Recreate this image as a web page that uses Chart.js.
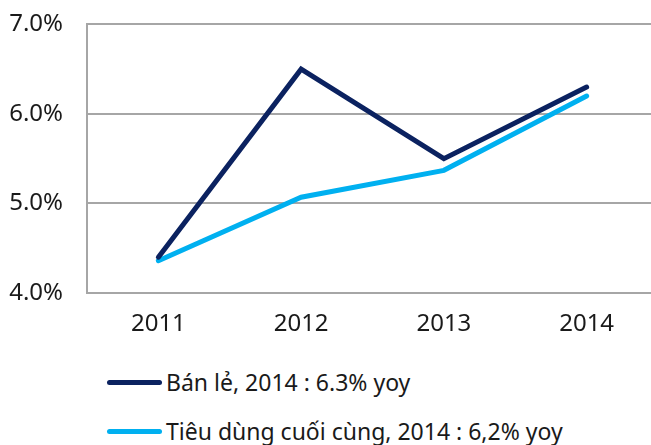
<!DOCTYPE html>
<html>
<head>
<meta charset="utf-8">
<script src="https://cdn.jsdelivr.net/npm/chart.js@4/dist/chart.umd.min.js"></script>
<style>
  html, body { margin: 0; padding: 0; background: #fff; overflow: hidden; }
  body { width: 651px; height: 445px; position: relative; font-family: "Noto Sans", sans-serif; }
  #wrap { position: absolute; left: 0; top: -14px; width: 658px; height: 364px; }
  #legend { position: absolute; left: 107px; top: 365px; }
  .item { display: flex; align-items: center; height: 34px; margin-bottom: 15px; font-size: 23px; color: #1a1a1a; white-space: nowrap; }
  .swatch { display: inline-block; width: 55px; height: 5px; border-radius: 3px; margin-right: 4px; }
</style>
</head>
<body>
<div id="wrap"><canvas id="chart"></canvas></div>
<div id="legend"></div>
<script>
/*************************************************
 * DATA
 *************************************************/
const years = ["2011", "2012", "2013", "2014"];
const retail = [4.40, 6.50, 5.50, 6.30];
const finalConsumption = [4.36, 5.07, 5.37, 6.20];
const seriesNames = ["Bán lẻ, 2014 : 6.3% yoy", "Tiêu dùng cuối cùng, 2014 : 6,2% yoy"];
const yTicks = [4, 5, 6, 7];

const NAVY = "#0b2260";
const SKY = "#00b0f0";
const GRID = "#a6a6a6";

/*************************************************
 * CHART
 *************************************************/
const chart = new Chart(document.getElementById("chart"), {
  type: "line",
  data: {
    labels: years,
    datasets: [
      { label: seriesNames[0], data: retail, borderColor: NAVY, backgroundColor: NAVY },
      { label: seriesNames[1], data: finalConsumption, borderColor: SKY, backgroundColor: SKY }
    ]
  },
  options: {
    responsive: true,
    maintainAspectRatio: false,
    animation: false,
    layout: { padding: 0 },
    elements: {
      line: { borderWidth: 5, tension: 0, borderCapStyle: "round", borderJoinStyle: "miter" },
      point: { radius: 0 }
    },
    plugins: { legend: { display: false }, tooltip: { enabled: false } },
    scales: {
      x: {
        offset: true,
        grid: { display: false, drawTicks: false },
        border: { display: true, color: GRID, width: 2 },
        ticks: { color: "#1a1a1a", font: { family: "Noto Sans", size: 24 }, padding: 17 },
        afterFit: (s) => { s.height = 57; }
      },
      y: {
        min: 4,
        max: 7,
        afterBuildTicks: (s) => { s.ticks = yTicks.map(v => ({ value: v })); },
        grid: { color: GRID, lineWidth: 2, drawTicks: false },
        border: { display: true, color: GRID, width: 2 },
        ticks: {
          color: "#1a1a1a",
          font: { family: "Noto Sans", size: 24 },
          padding: 24,
          callback: (v) => v.toFixed(1) + "%"
        },
        afterFit: (s) => { s.width = 87; }
      }
    }
  }
});

/*************************************************
 * LEGEND
 *************************************************/
const legendEl = document.getElementById("legend");
chart.data.datasets.forEach(ds => {
  const row = document.createElement("div");
  row.className = "item";
  const sw = document.createElement("span");
  sw.className = "swatch";
  sw.style.background = ds.borderColor;
  row.appendChild(sw);
  row.appendChild(document.createTextNode(ds.label));
  legendEl.appendChild(row);
});
</script>
</body>
</html>
